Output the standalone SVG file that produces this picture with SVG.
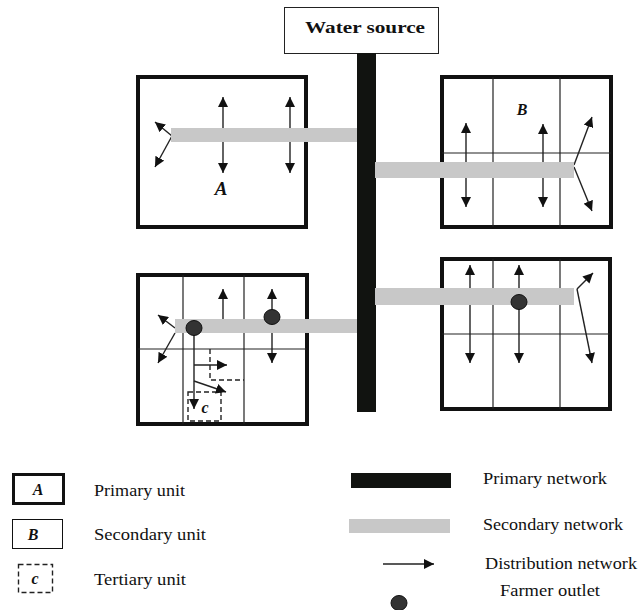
<svg xmlns="http://www.w3.org/2000/svg" width="639" height="610" viewBox="0 0 639 610">
<style>
.unit{fill:#fff;stroke:#111;stroke-width:4}
.grid{stroke:#222;stroke-width:1.2;fill:none}
.arr{stroke:#222;stroke-width:1.4;fill:none;marker-end:url(#ah)}
.sec{fill:#c8c8c8}
.pri{fill:#111310}
.dot{fill:#333;stroke:#111;stroke-width:1}
.dash{fill:none;stroke:#222;stroke-width:1.4;stroke-dasharray:5,3}
.lab{font-family:"Liberation Serif",serif;font-size:17px;fill:#111}
.ulab{font-family:"Liberation Serif",serif;font-weight:bold;font-style:italic;fill:#111;text-anchor:middle}
</style>
<defs>
<marker id="ah" markerUnits="userSpaceOnUse" markerWidth="11" markerHeight="10" refX="10" refY="5" orient="auto">
<path d="M0,0 L10,5 L0,10 z" fill="#111"/>
</marker>
</defs>
<rect width="639" height="610" fill="#fff"/>

<g id="water-source">
<rect x="284.5" y="7.5" width="154" height="46" fill="#fff" stroke="#222" stroke-width="1"/>
<text x="305" y="33" class="lab" font-weight="bold" textLength="120" lengthAdjust="spacingAndGlyphs">Water source</text>
</g>

<g id="unit-A">
<rect class="unit" x="138" y="77" width="168" height="150"/>
<text class="ulab" x="221" y="195" font-size="19">A</text>
</g>

<g id="unit-B">
<rect class="unit" x="442" y="77" width="169" height="150"/>
<path class="grid" d="M493,77V227M560,77V227M442,153H611"/>
<text class="ulab" x="522" y="115" font-size="16">B</text>
</g>

<g id="unit-bottom-left">
<rect class="unit" x="138" y="275" width="169" height="149"/>
<path class="grid" d="M183,275V424M244,275V424M138,349H307"/>
<path class="dash" d="M210,349V380H244"/>
<rect class="dash" x="188" y="392" width="33" height="29"/>
<text class="ulab" x="205" y="413" font-size="16">c</text>
</g>

<g id="unit-bottom-right">
<rect class="unit" x="442" y="259" width="168" height="150"/>
<path class="grid" d="M493,259V409M560,259V409M442,334H610"/>
</g>

<g id="connectors">
<line class="arr" x1="223" y1="128" x2="223" y2="97"/>
<line class="arr" x1="223" y1="142" x2="223" y2="173"/>
<line class="arr" x1="290" y1="128" x2="290" y2="97"/>
<line class="arr" x1="290" y1="142" x2="290" y2="173"/>
<line class="arr" x1="172" y1="136" x2="155" y2="122"/>
<line class="arr" x1="172" y1="136" x2="155" y2="167"/>

<line class="arr" x1="466" y1="162" x2="466" y2="123"/>
<line class="arr" x1="466" y1="178" x2="466" y2="207"/>
<line class="arr" x1="543" y1="162" x2="543" y2="124"/>
<line class="arr" x1="543" y1="178" x2="543" y2="207"/>
<line class="arr" x1="574" y1="165" x2="592" y2="117"/>
<line class="arr" x1="574" y1="167" x2="592" y2="211"/>

<line class="arr" x1="223" y1="319" x2="223" y2="289"/>
<line class="arr" x1="272" y1="317" x2="272" y2="289"/>
<line class="arr" x1="272" y1="333" x2="272" y2="363"/>
<line class="arr" x1="175" y1="328" x2="158" y2="315"/>
<line class="arr" x1="175" y1="333" x2="158" y2="363"/>
<line class="arr" x1="194" y1="328" x2="194" y2="409"/>
<line class="arr" x1="194" y1="365" x2="227" y2="365"/>
<line class="arr" x1="194" y1="381" x2="226" y2="392"/>

<line class="arr" x1="470" y1="290" x2="470" y2="265"/>
<line class="arr" x1="470" y1="300" x2="470" y2="363"/>
<line class="arr" x1="519" y1="302" x2="519" y2="265"/>
<line class="arr" x1="519" y1="302" x2="519" y2="363"/>
<line class="arr" x1="577" y1="289" x2="593" y2="273"/>
<line class="arr" x1="577" y1="289" x2="592" y2="363"/>

<rect class="pri" x="357" y="53" width="19" height="359"/>
<rect class="sec" x="171" y="128" width="186" height="14"/>
<rect class="sec" x="375" y="162" width="199" height="16"/>
<rect class="sec" x="175" y="319" width="182" height="14"/>
<rect class="sec" x="375" y="288" width="199" height="17"/>
</g>

<g id="outlets">
<ellipse class="dot" cx="194" cy="328" rx="8" ry="7.5"/>
<ellipse class="dot" cx="272" cy="317" rx="8" ry="7.5"/>
<ellipse class="dot" cx="519" cy="302" rx="8" ry="7.5"/>
</g>

<g id="legend">
<rect x="13.5" y="474.5" width="50" height="29" fill="#fff" stroke="#111" stroke-width="3"/>
<text class="ulab" x="38" y="495" font-size="16">A</text>
<text class="lab" x="94" y="496" textLength="91" lengthAdjust="spacingAndGlyphs">Primary unit</text>
<rect x="12.5" y="519.5" width="50" height="29" fill="#fff" stroke="#111" stroke-width="1"/>
<text class="ulab" x="33" y="540" font-size="16">B</text>
<text class="lab" x="94" y="540" textLength="112" lengthAdjust="spacingAndGlyphs">Secondary unit</text>
<rect class="dash" x="18.5" y="564.5" width="34" height="28"/>
<text class="ulab" x="35" y="584" font-size="16">c</text>
<text class="lab" x="94" y="585" textLength="92" lengthAdjust="spacingAndGlyphs">Tertiary unit</text>

<rect class="pri" x="351" y="473" width="100" height="15"/>
<text class="lab" x="483" y="484" textLength="124" lengthAdjust="spacingAndGlyphs">Primary network</text>
<rect class="sec" x="349" y="519" width="101" height="14"/>
<text class="lab" x="483" y="530" textLength="140" lengthAdjust="spacingAndGlyphs">Secondary network</text>
<line class="arr" x1="383" y1="564" x2="434" y2="564"/>
<text class="lab" x="485" y="569" textLength="152" lengthAdjust="spacingAndGlyphs">Distribution network</text>
<ellipse class="dot" cx="399" cy="603" rx="8" ry="7.5"/>
<text class="lab" x="500" y="596" textLength="100" lengthAdjust="spacingAndGlyphs">Farmer outlet</text>
</g>
</svg>
